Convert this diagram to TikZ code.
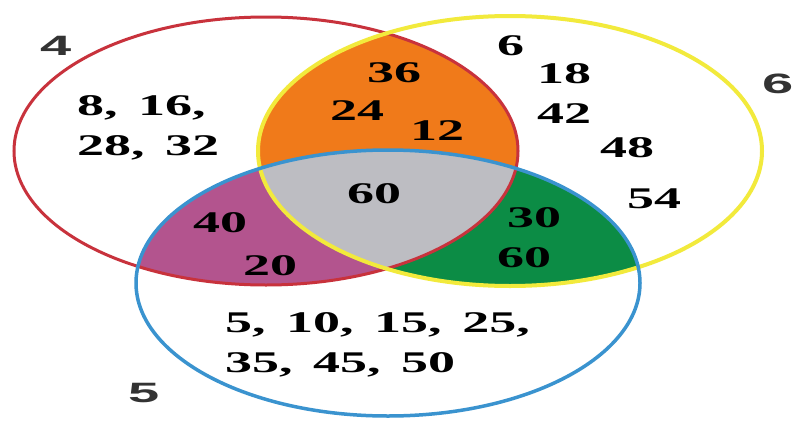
\documentclass[tikz,border=0pt]{standalone}
\usepackage{fontspec}
\setmainfont{Liberation Serif}
\newfontfamily\numfont{Liberation Serif}
\newfontfamily\lblfont{Liberation Sans}
\usepackage{graphicx}
\definecolor{redline}{HTML}{C8323C}
\definecolor{yellowline}{HTML}{F2EA3C}
\definecolor{blueline}{HTML}{3A93CF}
\definecolor{orangefill}{HTML}{F07A1A}
\definecolor{grayfill}{HTML}{BDBDC2}
\definecolor{purplefill}{HTML}{B3548E}
\definecolor{greenfill}{HTML}{0C8C45}
\definecolor{lblgray}{HTML}{333333}
\newcommand\numtxt[1]{\scalebox{1.8}[1]{\numfont\bfseries\spaceskip=0.38em\relax #1}}
\begin{document}
\begin{tikzpicture}[x=1pt,y=-1pt,
  num/.style={anchor=base west, inner sep=0pt, text=black,
    font=\numfont\fontsize{30}{36}\selectfont\bfseries},
  setlbl/.style={anchor=base west, inner sep=0pt, text=lblgray,
    font=\lblfont\fontsize{28}{34}\selectfont\bfseries},
  outline/.style={line width=#1}]
\useasboundingbox[fill=white] (0,0) rectangle (798,423);
% region fills
\begin{scope}
  \clip (266,151) ellipse [x radius=252pt, y radius=134pt];
  \fill[orangefill] (510,151) ellipse [x radius=252pt, y radius=135pt];
  \fill[purplefill] (388,283) ellipse [x radius=252pt, y radius=133pt];
\end{scope}
\begin{scope}
  \clip (510,151) ellipse [x radius=252pt, y radius=135pt];
  \fill[greenfill] (388,283) ellipse [x radius=252pt, y radius=133pt];
\end{scope}
\begin{scope}
  \clip (266,151) ellipse [x radius=252pt, y radius=134pt];
  \clip (510,151) ellipse [x radius=252pt, y radius=135pt];
  \fill[grayfill] (388,283) ellipse [x radius=252pt, y radius=133pt];
\end{scope}
% outlines
\draw[redline, outline=3pt] (266,151) ellipse [x radius=252pt, y radius=134pt];
\draw[yellowline, outline=4pt] (510,151) ellipse [x radius=252pt, y radius=135pt];
\draw[blueline, outline=3.5pt] (388,283) ellipse [x radius=252pt, y radius=133pt];
% set labels
\node[setlbl] (l4) at (40,55) {\scalebox{2}[1]{4}};
\node[setlbl] (l6) at (762,93) {\scalebox{2}[1]{6}};
\node[setlbl] (l5) at (128,402) {\scalebox{2}[1]{5}};
% only 4
\node[num] (a1) at (77,115) {\numtxt{8, 16,}};
\node[num] (a2) at (77,155) {\numtxt{28, 32}};
% 4 and 6
\node[num] (b1) at (367,82) {\numtxt{36}};
\node[num] (b2) at (330,120) {\numtxt{24}};
\node[num] (b3) at (410,140) {\numtxt{12}};
% only 6
\node[num] (c1) at (497,55) {\numtxt{6}};
\node[num] (c2) at (537,83) {\numtxt{18}};
\node[num] (c3) at (537,123) {\numtxt{42}};
\node[num] (c4) at (600,157) {\numtxt{48}};
\node[num] (c5) at (627,208) {\numtxt{54}};
% all three
\node[num] (d1) at (347,203) {\numtxt{60}};
% 4 and 5
\node[num] (e1) at (193,232) {\numtxt{40}};
\node[num] (e2) at (243,275) {\numtxt{20}};
% 6 and 5
\node[num] (f1) at (507,227) {\numtxt{30}};
\node[num] (f2) at (497,267) {\numtxt{60}};
% only 5
\node[num] (g1) at (225,332) {\numtxt{5, 10, 15, 25,}};
\node[num] (g2) at (225,372) {\numtxt{35, 45, 50}};
\end{tikzpicture}
\end{document}
